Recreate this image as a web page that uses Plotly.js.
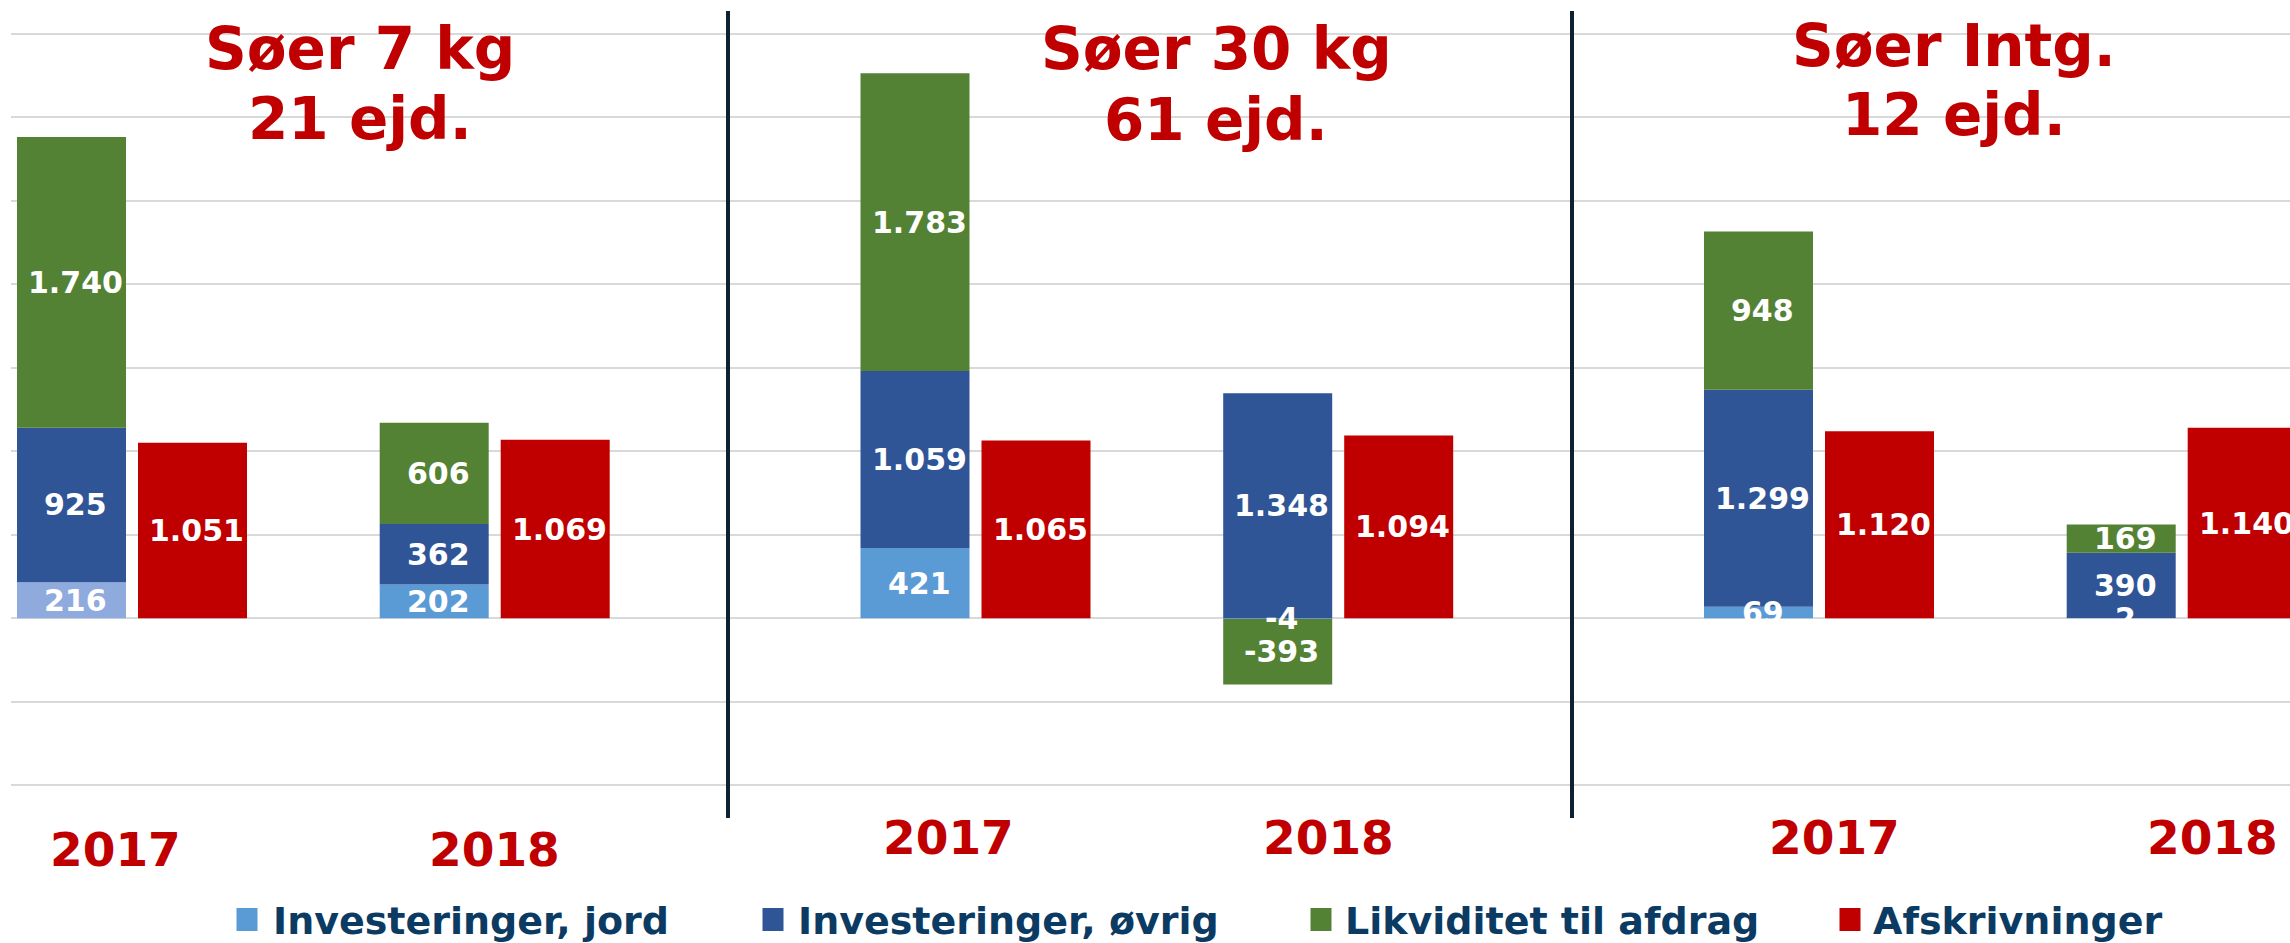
<!DOCTYPE html>
<html>
<head>
<meta charset="utf-8">
<script src="https://cdn.plot.ly/plotly-3.0.1.min.js"></script>
<style>
html,body{margin:0;padding:0;overflow:hidden;background:#ffffff;}
#chart{width:2400px;height:943px;}
</style>
</head>
<body>
<div id="chart"></div>
<script>
// ---------------- data ----------------
const panels = ['Søer 7 kg', 'Søer 30 kg', 'Søer Intg.'];
const panelSub = ['21 ejd.', '61 ejd.', '12 ejd.'];
const years = ['2017', '2018'];
const seriesNames = ['Investeringer, jord', 'Investeringer, øvrig', 'Likviditet til afdrag', 'Afskrivninger'];
// order: 7kg-2017, 7kg-2018, 30kg-2017, 30kg-2018, Intg-2017, Intg-2018
const invJord       = [216, 202, 421, -4, 69, 2];
const invOvrig      = [925, 362, 1059, 1348, 1299, 390];
const likviditet    = [1740, 606, 1783, -393, 948, 169];
const afskrivninger = [1051, 1069, 1065, 1094, 1120, 1140];

// ---------------- layout constants ----------------
const DIV_W = 2400, DIV_H = 943;
const ML = 11, MR = 0, MT = 17, MB = 141;
const PW = DIV_W - ML - MR, PH = DIV_H - MT - MB;
const FIRST = 121, PANEL_PITCH = 843.5, YEAR_PITCH = 362.7;
const BAR_W = 109, OFFSET = 60.5;
const colors = {jord: '#5b9bd5', jordLight: '#8faadc', ovrig: '#2f5597', likv: '#548235', afskr: '#c00000'};
const RED = '#c00000', NAVY = '#0b3a62';
const FONT = 'DejaVu Sans';

const catCenter = [];
panels.forEach((p, pi) => years.forEach((y, yi) => catCenter.push(FIRST + pi * PANEL_PITCH + yi * YEAR_PITCH)));
const stackX = catCenter.map(c => c - OFFSET);
const redX = catCenter.map(c => c + OFFSET);

const fmt = n => (n < 0 ? '-' : '') + String(Math.abs(n)).replace(/\B(?=(\d{3})+(?!\d))/g, '.');
const px2py = ypx => (DIV_H - MB - ypx) / PH;   // pixel y -> paper y
const px2px = xpx => (xpx - ML) / PW;           // pixel x -> paper x

function barTrace(name, xs, ys, color) {
  return {
    type: 'bar', name: name, x: xs, y: ys, width: BAR_W,
    marker: {color: color, line: {width: 0}},
    textposition: 'none', hoverinfo: 'name+y'
  };
}

const jordColors = invJord.map((v, i) => i === 0 ? colors.jordLight : colors.jord);
const traces = [
  barTrace(seriesNames[0], stackX, invJord, jordColors),
  barTrace(seriesNames[1], stackX, invOvrig, colors.ovrig),
  barTrace(seriesNames[2], stackX, likviditet, colors.likv),
  barTrace(seriesNames[3], redX, afskrivninger, colors.afskr)
];

const annotations = [];
// ---------------- data labels (centered in each segment, stacked like barmode 'relative') ----------------
const posBase = catCenter.map(() => 0), negBase = catCenter.map(() => 0);
[invJord, invOvrig, likviditet].forEach(vals => vals.forEach((v, i) => {
  const base = v >= 0 ? posBase[i] : negBase[i];
  if (v >= 0) posBase[i] += v; else negBase[i] += v;
  annotations.push({xref: 'x', yref: 'y', x: stackX[i], y: base + v / 2, xshift: 4,
    text: '<b>' + fmt(v) + '</b>', showarrow: false, xanchor: 'center', yanchor: 'middle',
    font: {family: FONT, size: 30, color: '#ffffff'}});
}));
afskrivninger.forEach((v, i) => annotations.push({xref: 'x', yref: 'y', x: redX[i], y: v / 2, xshift: 4,
  text: '<b>' + fmt(v) + '</b>', showarrow: false, xanchor: 'center', yanchor: 'middle',
  font: {family: FONT, size: 30, color: '#ffffff'}}));

// ---------------- panel titles ----------------
const titleCenters = [360, 1216, 1954];
const titleBase1 = [69, 69, 66], titleBase2 = [139, 140, 135];
panels.forEach((p, i) => {
  annotations.push({xref: 'paper', yref: 'paper', x: px2px(titleCenters[i]), y: px2py(titleBase1[i] - 0.35 * 58),
    text: '<b>' + p + '</b>', showarrow: false, xanchor: 'center', yanchor: 'middle',
    font: {family: FONT, size: 58, color: RED}});
  annotations.push({xref: 'paper', yref: 'paper', x: px2px(titleCenters[i]), y: px2py(titleBase2[i] - 0.35 * 58),
    text: '<b>' + panelSub[i] + '</b>', showarrow: false, xanchor: 'center', yanchor: 'middle',
    font: {family: FONT, size: 58, color: RED}});
});
// ---------------- year labels ----------------
const yearShift = [-17, 0, -27, -10, 15, 31];
const yearBase = [866, 866, 854, 854, 854, 854];
catCenter.forEach((c, i) => {
  annotations.push({xref: 'x', yref: 'paper', x: c, xshift: yearShift[i], y: px2py(yearBase[i] - 0.35 * 47),
    text: '<b>' + years[i % 2] + '</b>', showarrow: false, xanchor: 'center', yanchor: 'middle',
    font: {family: FONT, size: 47, color: RED}});
});
// ---------------- legend ----------------
const legSquareX = [247, 773, 1321, 1850];
const legTextX = [271, 796, 1343, 1871];
const legColors = [colors.jord, colors.ovrig, colors.likv, colors.afskr];
const shapes = [];
seriesNames.forEach((s, i) => {
  annotations.push({xref: 'paper', yref: 'paper', x: px2px(legTextX[i]), y: px2py(934 - 0.35 * 38),
    text: '<b>' + s + '</b>', showarrow: false, xanchor: 'left', yanchor: 'middle',
    font: {family: FONT, size: 38, color: NAVY}});
  shapes.push({type: 'rect', xref: 'paper', yref: 'paper',
    x0: px2px(legSquareX[i] - 10.5), x1: px2px(legSquareX[i] + 10.5), y0: px2py(931), y1: px2py(908),
    fillcolor: legColors[i], line: {width: 0}});
});
// panel dividers
[728, 1572].forEach(xp => shapes.push({type: 'line', xref: 'paper', yref: 'paper',
  x0: px2px(xp), x1: px2px(xp), y0: px2py(818), y1: px2py(11), line: {color: '#0c2233', width: 4}}));
// white strip below zero in third panel: labels are clipped there in the original
annotations.push({xref: 'paper', yref: 'paper', x: px2px(2000), y: px2py(633), xanchor: 'center', yanchor: 'middle',
  text: ' ', showarrow: false, width: 600, height: 26, bgcolor: '#ffffff', borderpad: 0, borderwidth: 0});

const layout = {
  width: DIV_W, height: DIV_H,
  margin: {l: ML, r: MR, t: MT, b: MB, pad: 0},
  paper_bgcolor: '#ffffff', plot_bgcolor: '#ffffff',
  barmode: 'relative', showlegend: false, separators: ',.',
  xaxis: {range: [0, PW], showgrid: false, zeroline: false, showticklabels: false, ticks: '', showline: false, fixedrange: true},
  yaxis: {range: [-1100, 3600], tick0: 0, dtick: 500, showgrid: true, gridcolor: '#d9d9d9', gridwidth: 2,
    zeroline: true, zerolinecolor: '#d9d9d9', zerolinewidth: 2, showticklabels: false, ticks: '', showline: false, fixedrange: true},
  annotations: annotations, shapes: shapes
};

Plotly.newPlot('chart', traces, layout, {displayModeBar: false, staticPlot: true});
</script>
</body>
</html>
